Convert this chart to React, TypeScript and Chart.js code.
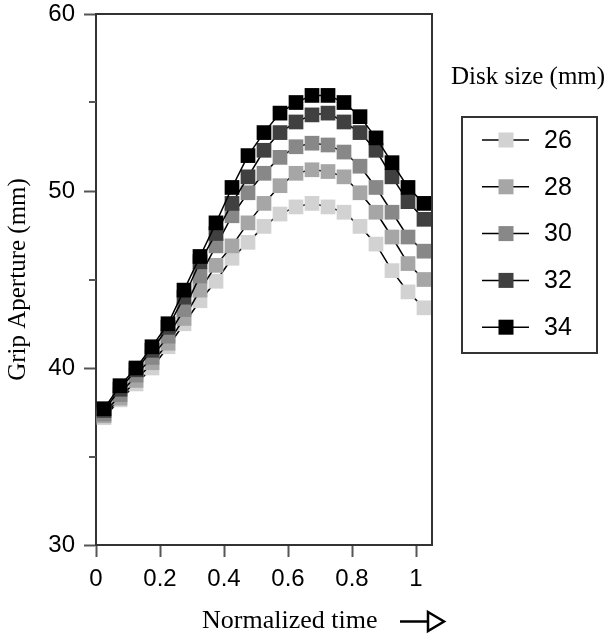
import React, { useEffect, useRef } from "react";
import { Chart, registerables } from "chart.js";

Chart.register(...registerables);

// ---- data ----
const TIME = [0.025, 0.075, 0.125, 0.175, 0.225, 0.275, 0.325, 0.375, 0.425, 0.475, 0.525, 0.575, 0.625, 0.675, 0.725, 0.775, 0.825, 0.875, 0.925, 0.975, 1.025];
const DISK_SIZES = ["26", "28", "30", "32", "34"];
const SIZE_26 = [37.2, 38.2, 39.1, 40.0, 41.2, 42.5, 43.8, 44.9, 46.2, 47.1, 48.0, 48.7, 49.1, 49.3, 49.1, 48.8, 48.0, 47.0, 45.5, 44.3, 43.4];
const SIZE_28 = [37.3, 38.3, 39.3, 40.3, 41.4, 42.8, 44.4, 45.8, 46.9, 48.2, 49.3, 50.3, 51.0, 51.2, 51.1, 50.8, 49.9, 48.8, 47.4, 45.9, 45.0];
const SIZE_30 = [37.4, 38.5, 39.6, 40.6, 41.8, 43.3, 45.2, 46.9, 48.6, 49.9, 51.0, 51.9, 52.5, 52.7, 52.6, 52.2, 51.4, 50.2, 48.8, 47.4, 46.6];
const SIZE_32 = [37.6, 38.8, 39.9, 41.0, 42.3, 44.0, 46.0, 47.6, 49.3, 50.8, 52.3, 53.3, 53.9, 54.3, 54.4, 53.9, 53.3, 52.3, 50.8, 49.4, 48.4];
const SIZE_34 = [37.7, 39.0, 40.0, 41.2, 42.5, 44.4, 46.3, 48.2, 50.2, 52.0, 53.3, 54.4, 55.0, 55.4, 55.4, 55.0, 54.2, 53.0, 51.6, 50.2, 49.3];
const SERIES = [SIZE_26, SIZE_28, SIZE_30, SIZE_32, SIZE_34];
const COLORS = ["#d2d2d2", "#a6a6a6", "#888888", "#404040", "#000000"];

const X_TICKS = [0, 0.2, 0.4, 0.6, 0.8, 1];
const X_TICK_LABELS = ["0", "0.2", "0.4", "0.6", "0.8", "1"];
const Y_TICKS = [30, 35, 40, 45, 50, 55, 60];
const Y_TICK_LABELS = ["30", "", "40", "", "50", "", "60"];

const X_TITLE = "Normalized time";
const Y_TITLE = "Grip Aperture (mm)";
const LEGEND_TITLE = "Disk size (mm)";

const SANS = "'Liberation Sans', Arial, Helvetica, sans-serif";
const SERIF = "'Liberation Serif', 'Times New Roman', Times, serif";

const decor = {
  id: "decor",
  afterDraw(chart: any) {
    const ctx = chart.ctx as CanvasRenderingContext2D;
    const { left, right, top, bottom } = chart.chartArea;
    ctx.save();
    // frame top and right
    ctx.strokeStyle = "#333";
    ctx.lineWidth = 2;
    ctx.beginPath();
    ctx.moveTo(left - 1, top);
    ctx.lineTo(right, top);
    ctx.lineTo(right, bottom + 1);
    ctx.stroke();
    // minor y ticks
    const ys = chart.scales.y;
    ctx.strokeStyle = "#555";
    Y_TICKS.forEach((v) => {
      if (v % 10 !== 0) {
        const py = Math.round(ys.getPixelForValue(v));
        ctx.beginPath();
        ctx.moveTo(left - 7, py);
        ctx.lineTo(left, py);
        ctx.stroke();
      }
    });
    // x title + arrow
    ctx.fillStyle = "#000";
    ctx.font = `26px ${SERIF}`;
    ctx.textAlign = "left";
    ctx.textBaseline = "middle";
    ctx.fillText(X_TITLE, 202, 621);
    ctx.strokeStyle = "#000";
    ctx.lineWidth = 2.5;
    ctx.beginPath();
    ctx.moveTo(400, 621.5);
    ctx.lineTo(428, 621.5);
    ctx.stroke();
    ctx.beginPath();
    ctx.moveTo(428, 612);
    ctx.lineTo(444, 621.5);
    ctx.lineTo(428, 631);
    ctx.closePath();
    ctx.fillStyle = "#fff";
    ctx.fill();
    ctx.stroke();
    // legend
    ctx.fillStyle = "#000";
    ctx.font = `25px ${SERIF}`;
    ctx.textAlign = "left";
    ctx.textBaseline = "middle";
    ctx.fillText(LEGEND_TITLE, 451, 77);
    ctx.strokeStyle = "#333";
    ctx.lineWidth = 2;
    ctx.strokeRect(462, 117, 135, 236);
    chart.data.datasets.forEach((ds: any, i: number) => {
      const y = 140 + i * 46.8;
      ctx.strokeStyle = "#000";
      ctx.lineWidth = 1.5;
      ctx.beginPath();
      ctx.moveTo(482, y);
      ctx.lineTo(529, y);
      ctx.stroke();
      ctx.fillStyle = ds.pointBackgroundColor;
      ctx.fillRect(506 - 7.5, y - 7.5, 15, 15);
      ctx.fillStyle = "#000";
      ctx.font = `25px ${SANS}`;
      ctx.fillText(ds.label, 544, y + 1);
    });
    ctx.restore();
  },
};

export default function App() {
  const ref = useRef<HTMLCanvasElement>(null);
  useEffect(() => {
    const datasets = SERIES.map((vals, i) => ({
      label: DISK_SIZES[i],
      data: TIME.map((t, j) => ({ x: t, y: vals[j] })),
      borderColor: "#000",
      borderWidth: 1.5,
      pointStyle: "rect",
      pointRadius: 10.4,
      pointBorderWidth: 0,
      pointBackgroundColor: COLORS[i],
      pointBorderColor: COLORS[i],
      tension: 0,
      fill: false,
      order: SERIES.length - 1 - i,
      clip: false as any,
    }));
    const chart = new Chart(ref.current!, {
      type: "line",
      data: { datasets },
      plugins: [decor],
      options: {
        responsive: false,
        animation: false,
        devicePixelRatio: 1,
        layout: { padding: { left: 0, top: 14, right: 174, bottom: 0 } },
        plugins: { legend: { display: false }, tooltip: { enabled: false } },
        scales: {
          x: {
            type: "linear",
            min: 0,
            max: 1.05,
            afterBuildTicks: (s: any) => {
              s.ticks = X_TICKS.map((v) => ({ value: v }));
            },
            afterFit: (s: any) => {
              s.height = 91;
              s.paddingLeft = 0;
              s.paddingRight = 0;
            },
            ticks: {
              callback: (_v: any, i: number) => X_TICK_LABELS[i],
              font: { family: SANS, size: 24 },
              color: "#000",
              padding: 8,
              autoSkip: false,
              maxRotation: 0,
            },
            grid: { drawOnChartArea: false, drawTicks: true, tickLength: 12, tickWidth: 2, tickColor: "#555" },
            border: { display: true, color: "#333", width: 2 },
          },
          y: {
            type: "linear",
            min: 30,
            max: 60,
            afterBuildTicks: (s: any) => {
              s.ticks = Y_TICKS.map((v) => ({ value: v }));
            },
            afterFit: (s: any) => {
              s.width = 96;
              s.paddingTop = 0;
              s.paddingBottom = 0;
            },
            ticks: {
              callback: (_v: any, i: number) => Y_TICK_LABELS[i],
              font: { family: SANS, size: 24 },
              color: "#000",
              padding: 9,
              autoSkip: false,
            },
            grid: {
              drawOnChartArea: false,
              drawTicks: true,
              tickLength: 12,
              tickWidth: 2,
              tickColor: (c: any) => (c.tick && c.tick.value % 10 === 0 ? "#555" : "rgba(0,0,0,0)"),
            },
            border: { display: true, color: "#333", width: 2 },
            title: {
              display: true,
              text: Y_TITLE,
              font: { family: SERIF, size: 25 },
              color: "#000",
              padding: { top: 3, bottom: 0 },
            },
          },
        },
      },
    });
    return () => chart.destroy();
  }, []);
  return (
    <canvas
      ref={ref}
      width={606}
      height={636}
      style={{ position: "absolute", left: 0, top: 0, width: 606, height: 636 }}
    />
  );
}
